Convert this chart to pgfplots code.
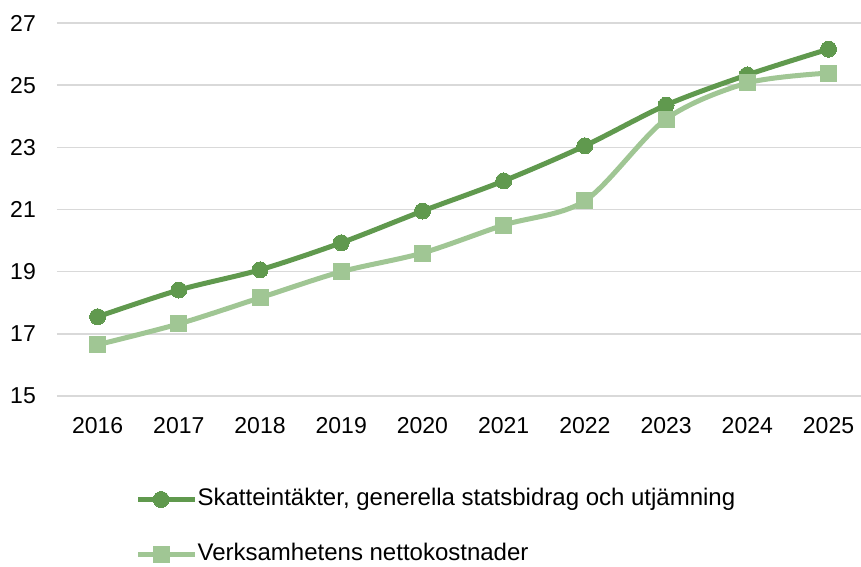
\documentclass[border=0pt]{standalone}
\usepackage{pgfplots}
\pgfplotsset{compat=1.18}
\usepackage{fontspec}
\setmainfont{Liberation Sans}
\definecolor{dk}{RGB}{96,153,78}
\definecolor{lt}{RGB}{160,198,148}
\definecolor{gr}{RGB}{217,217,217}
\begin{document}
\fontsize{23}{27}\selectfont
\begin{tikzpicture}
\useasboundingbox (-57pt,-170pt) rectangle (804pt,396pt);
\begin{axis}[
  at={(0pt,0pt)}, anchor=south west,
  scale only axis, width=804pt, height=373pt,
  xmin=2015.5, xmax=2025.4, ymin=15, ymax=27,
  xtick={2016,2017,2018,2019,2020,2021,2022,2023,2024,2025},
  xticklabels={2016,2017,2018,2019,2020,2021,2022,2023,2024,2025},
  ytick={15,17,19,21,23,25,27},
  /pgf/number format/assume math mode=true,
  ymajorgrids, grid style={draw=gr, line width=1.5pt},
  axis line style={draw=none}, tick style={draw=none},
  ticklabel style={font=\fontsize{23}{27}\selectfont, inner sep=0pt},
  xticklabel style={yshift=-21pt},
  yticklabel style={xshift=-21pt},
  clip=false,
  legend style={at={(0.0975,-0.246)}, anchor=north west, draw=none, fill=none,
    inner sep=0pt, row sep=32pt, font=\fontsize{24}{28}\selectfont,
    cells={anchor=west}, nodes={inner sep=0pt, text height=17.5pt, text depth=5.5pt}},
  legend image code/.code={%
    \draw[mark repeat=2, mark phase=2, #1] plot coordinates {(0pt,0pt) (23pt,0pt) (46pt,0pt)};
    \path (0pt,0pt) -- (57pt,0pt);},
]
\addplot[dk, line width=5pt, smooth, tension=0.5, mark=*, mark size=8pt, mark options={solid, fill=dk, line width=0pt}]
  coordinates {(2016,17.55) (2017,18.41) (2018,19.06) (2019,19.93) (2020,20.95) (2021,21.92) (2022,23.05) (2023,24.36) (2024,25.33) (2025,26.16)};
\addlegendentry{Skatteintäkter, generella statsbidrag och utjämning}
\addplot[lt, line width=5pt, smooth, tension=0.5, mark=square*, mark size=8pt, mark options={solid, fill=lt, line width=0pt}]
  coordinates {(2016,16.65) (2017,17.32) (2018,18.16) (2019,19.0) (2020,19.60) (2021,20.50) (2022,21.28) (2023,23.91) (2024,25.07) (2025,25.39)};
\addlegendentry{Verksamhetens nettokostnader}
\end{axis}
\end{tikzpicture}
\end{document}
